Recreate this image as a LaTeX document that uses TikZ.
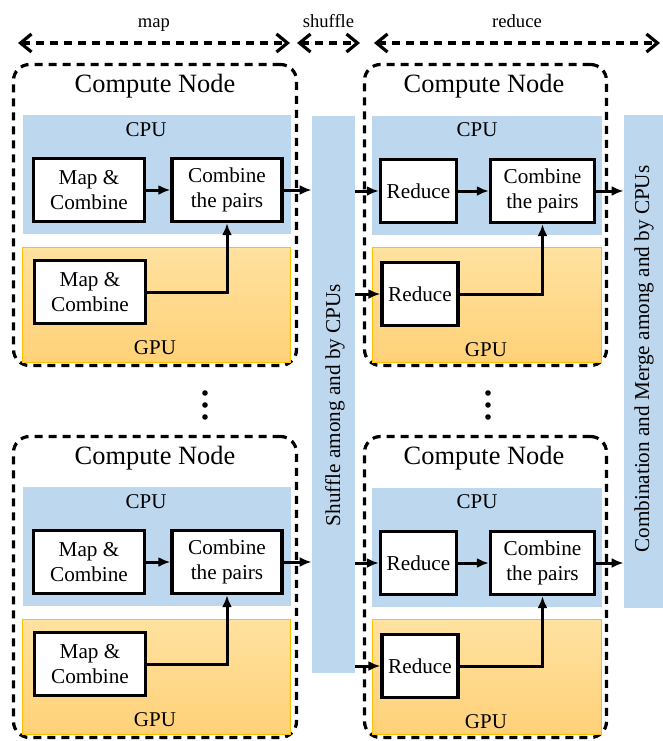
\documentclass[tikz,border=0pt]{standalone}
\usepackage{fontspec}
\setmainfont{Liberation Serif}
\usepackage{tikz}
\usetikzlibrary{arrows.meta,positioning,calc}
\definecolor{cpublue}{RGB}{189,215,238}
\definecolor{gputop}{RGB}{255,226,160}
\definecolor{gpubot}{RGB}{255,209,120}
\definecolor{gpuedge}{RGB}{255,192,0}
\tikzset{
    cnode/.style={rectangle, draw, line width=1.6pt, dash pattern=on 4pt off 3pt, rounded corners=8pt, minimum height=150.5pt},
    cpu/.style={rectangle, fill=cpublue, minimum height=59.5pt},
    gpu/.style={rectangle, draw=gpuedge, line width=0.4pt, top color=gputop, bottom color=gpubot, minimum height=57.5pt},
    box/.style={rectangle, draw, line width=1.7pt, fill=white, align=center, inner xsep=2pt, minimum height=31.5pt, font=\fontsize{10.6}{12.5}\selectfont},
    title/.style={font=\fontsize{13.2}{15}\selectfont},
    unit/.style={font=\fontsize{10.5}{12}\selectfont},
    bar/.style={rectangle, fill=cpublue},
    bartext/.style={rotate=90, font=\fontsize{10.6}{12}\selectfont},
    phase/.style={line width=1.6pt, dash pattern=on 4pt off 3pt, {Straight Barb[length=5.5pt,width=9pt]}-{Straight Barb[length=5.5pt,width=9pt]}},
    phaselbl/.style={midway, anchor=base, yshift=8pt, font=\fontsize{9.3}{11}\selectfont},
    flow/.style={-{Latex[length=6pt,width=5pt]}, line width=1.5pt},
}

\begin{document}
\begin{tikzpicture}[x=0.5pt, y=-0.5pt]
    \useasboundingbox (0,0) rectangle (663,741);

    % phases
    \coordinate (mapL) at (18,43);
    \coordinate (mapR) at (290,43);
    \coordinate (shufL) at (297,43);
    \coordinate (shufR) at (360,43);
    \coordinate (redL) at (374,43);
    \coordinate (redR) at (660,43);
    \draw[phase] (mapL) -- node[phaselbl] (maplbl) {map} (mapR);
    \draw[phase] (shufL) -- node[phaselbl] (shuflbl) {shuffle} (shufR);
    \draw[phase] (redL) -- node[phaselbl] (redlbl) {reduce} (redR);

    % map side, upper node
    \node[cnode, minimum width=141.5pt] (lnode1) at (155,215) {};
    \node[title] (ltitle1) at (155,86) {Compute Node};
    \node[cpu, minimum width=134pt] (lcpu1) at (157,174.5) {};
    \node[unit] (lcpulbl1) at (146,130) {CPU};
    \node[gpu, minimum width=134pt] (lgpu1) at (156,304.5) {};
    \node[unit] (lgpulbl1) at (155,348) {GPU};
    \node[box, minimum width=55.5pt] (lmap1) at (89,190) {Map \&\\Combine};
    \node[box, minimum width=55pt] (lcomb1) at (227,190) {Combine\\the pairs};
    \node[box, minimum width=55.5pt] (lgmap1) at (90,292) {Map \&\\Combine};

    % map side, lower node
    \node[cnode, minimum width=141.5pt] (lnode2) at (155,587) {};
    \node[title] (ltitle2) at (155,458) {Compute Node};
    \node[cpu, minimum width=134pt] (lcpu2) at (157,546.5) {};
    \node[unit] (lcpulbl2) at (146,502) {CPU};
    \node[gpu, minimum width=134pt] (lgpu2) at (156,676.5) {};
    \node[unit] (lgpulbl2) at (155,720) {GPU};
    \node[box, minimum width=55.5pt] (lmap2) at (89,562) {Map \&\\Combine};
    \node[box, minimum width=55pt] (lcomb2) at (227,562) {Combine\\the pairs};
    \node[box, minimum width=55.5pt] (lgmap2) at (90,664) {Map \&\\Combine};

    % shuffle
    \node[bar, minimum width=21.5pt, minimum height=278.5pt] (shuf) at (333.5,394.5) {};
    \node[bartext] (shuftxt) at (335,405) {Shuffle among and by CPUs};

    % reduce side, upper node
    \node[cnode, minimum width=121pt] (rnode1) at (485.5,215) {};
    \node[title] (rtitle1) at (484,86) {Compute Node};
    \node[cpu, minimum width=115pt] (rcpu1) at (487,175) {};
    \node[unit] (rcpulbl1) at (477,130) {CPU};
    \node[gpu, minimum width=114.5pt] (rgpu1) at (486.5,305) {};
    \node[unit] (rgpulbl1) at (486,350) {GPU};
    \node[box, minimum width=38pt] (rred1) at (418.5,191) {Reduce};
    \node[box, minimum width=52pt] (rcomb1) at (542.5,191) {Combine\\the pairs};
    \node[box, minimum width=38pt] (rgred1) at (420,294) {Reduce};

    % reduce side, lower node
    \node[cnode, minimum width=121pt] (rnode2) at (485.5,587) {};
    \node[title] (rtitle2) at (484,458) {Compute Node};
    \node[cpu, minimum width=115pt] (rcpu2) at (487,547) {};
    \node[unit] (rcpulbl2) at (477,502) {CPU};
    \node[gpu, minimum width=114.5pt] (rgpu2) at (486.5,677) {};
    \node[unit] (rgpulbl2) at (486,722) {GPU};
    \node[box, minimum width=38pt] (rred2) at (418.5,563) {Reduce};
    \node[box, minimum width=52pt] (rcomb2) at (542.5,563) {Combine\\the pairs};
    \node[box, minimum width=38pt] (rgred2) at (420,666) {Reduce};

    % merge
    \node[bar, minimum width=19.5pt, minimum height=246.5pt] (merge) at (643.5,361.5) {};
    \node[bartext] (mergetxt) at (644,359) {Combination and Merge among and by CPUs};

    % more nodes
    \fill (205,393) circle (1.4pt) (205,405) circle (1.4pt) (205,417) circle (1.4pt);
    \fill (488,393) circle (1.4pt) (488,405) circle (1.4pt) (488,417) circle (1.4pt);

    \draw[flow] (lmap1) -- (lcomb1);
    \draw[flow] (lgmap1.east) -| (lcomb1.south);
    \draw[flow] (lcomb1.east) -- (lcomb1.east -| shuf.west);
    \draw[flow] (lmap2) -- (lcomb2);
    \draw[flow] (lgmap2.east) -| (lcomb2.south);
    \draw[flow] (lcomb2.east) -- (lcomb2.east -| shuf.west);
    \draw[flow] (shuf.east |- rred1.west) -- (rred1.west);
    \draw[flow] (shuf.east |- rgred1.west) -- (rgred1.west);
    \draw[flow] (shuf.east |- rred2.west) -- (rred2.west);
    \draw[flow] (shuf.east |- rgred2.west) -- (rgred2.west);
    \draw[flow] (rred1) -- (rcomb1);
    \draw[flow] (rgred1.east) -| (rcomb1.south);
    \draw[flow] (rcomb1.east) -- (rcomb1.east -| merge.west);
    \draw[flow] (rred2) -- (rcomb2);
    \draw[flow] (rgred2.east) -| (rcomb2.south);
    \draw[flow] (rcomb2.east) -- (rcomb2.east -| merge.west);
\end{tikzpicture}
\end{document}
